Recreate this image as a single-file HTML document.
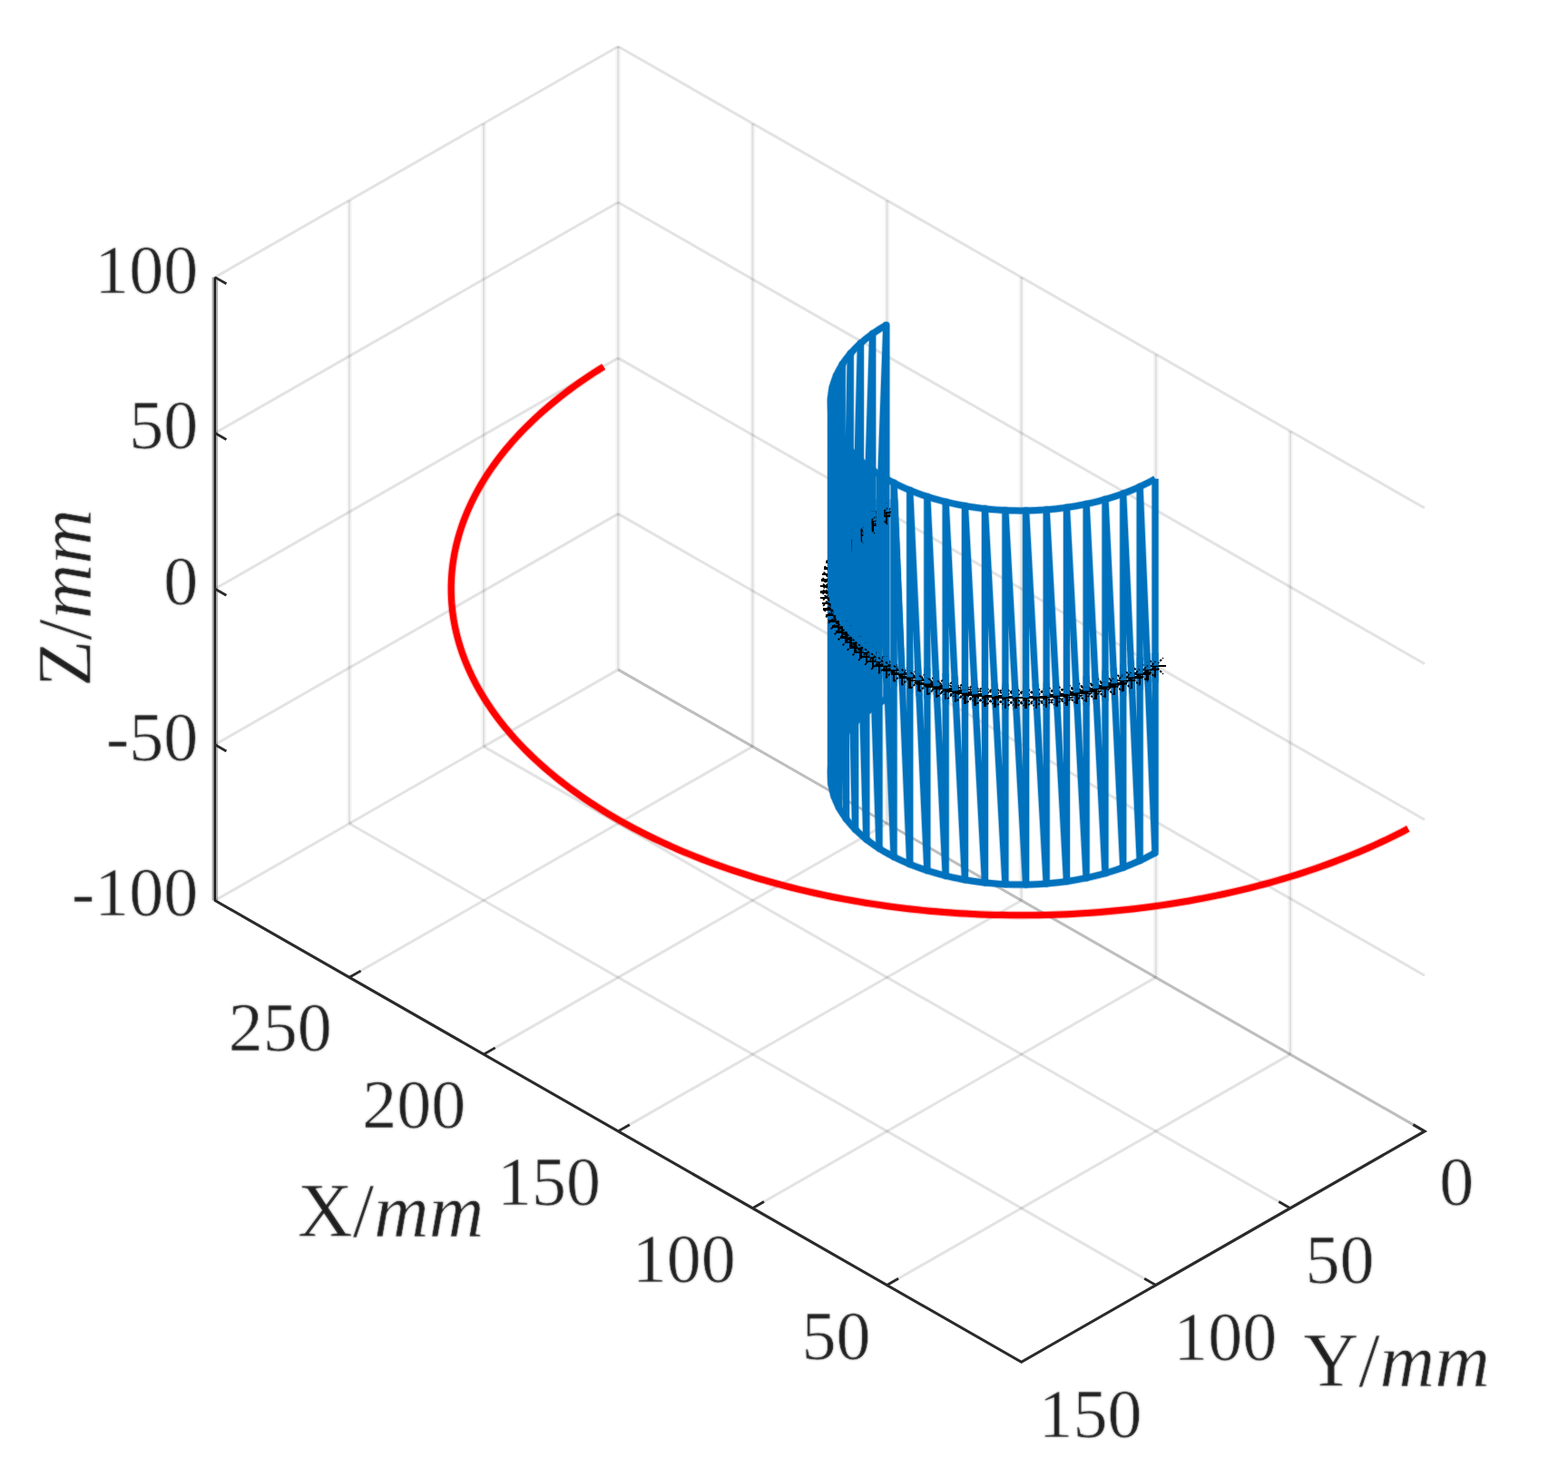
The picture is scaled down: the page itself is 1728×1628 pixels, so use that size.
<!DOCTYPE html>
<html lang="en"><head><meta charset="utf-8"><title>3D plot</title>
<style>
html,body{margin:0;padding:0;background:#fff;}
body{width:1728px;height:1628px;overflow:hidden;}
svg{display:block;}
line,polyline,path{fill:none;}
.gh{stroke:#262626;stroke-opacity:0.045;stroke-width:6;}
.g{stroke:#262626;stroke-opacity:0.1;stroke-width:2.2;}
.gd{stroke:#262626;stroke-opacity:0.13;stroke-width:3;}
.gd2{stroke:#262626;stroke-opacity:0.07;stroke-width:3;}
.axh{stroke:#262626;stroke-opacity:0.38;stroke-width:6.5;stroke-linejoin:miter;}
.ax{stroke:#1c1c1c;stroke-width:2.3;}
.axd{stroke:#2a2a2a;stroke-width:3.1;stroke-linejoin:miter;}
.tk{stroke:#2a2a2a;stroke-width:2.8;}
.redh{stroke:#ff0000;stroke-opacity:0.3;stroke-width:9.2;stroke-linejoin:round;}
.red{stroke:#ff0000;stroke-width:7;stroke-linejoin:round;}
.blh{stroke:#0072bd;stroke-opacity:0.3;stroke-width:8.8;stroke-linejoin:round;}
.bl{stroke:#0072bd;stroke-width:7;stroke-linejoin:round;}
.bl2{stroke:#0072bd;stroke-width:7;stroke-linecap:butt;}
.mk{stroke:#000;stroke-width:2.3;shape-rendering:crispEdges;}
.mkd{stroke:#000;stroke-width:1.9;stroke-dasharray:2.6 1.4;}
text{font-family:"Liberation Serif","Times New Roman",serif;fill:#1e1e1e;stroke:#fff;stroke-width:0.6px;}
</style></head>
<body>
<svg width="1728" height="1628" viewBox="0 0 1728 1628">
<defs><filter id="soft" x="0" y="0" width="1728" height="1628" filterUnits="userSpaceOnUse" color-interpolation-filters="sRGB"><feGaussianBlur stdDeviation="1" result="b"/><feComposite in="SourceGraphic" in2="b" operator="arithmetic" k1="0" k2="0.55" k3="0.45" k4="0"/></filter></defs>
<rect width="1728" height="1628" fill="#ffffff"/>
<g id="grid"><path class="gh" d="M681.25 738.1L681.25 51.2M533.12 822.9L533.12 136M385 907.7L385 220.8M1421.88 1162.1L1421.88 475.2M1273.75 1077.3L1273.75 390.4M1125.62 992.5L1125.62 305.6M977.5 907.7L977.5 220.8M829.38 822.9L829.38 136"/><line class="g" x1="681.25" y1="738.1" x2="681.25" y2="51.2"/><line class="g" x1="533.12" y1="822.9" x2="533.12" y2="136"/><line class="g" x1="385" y1="907.7" x2="385" y2="220.8"/><line class="g" x1="1421.88" y1="1162.1" x2="1421.88" y2="475.2"/><line class="g" x1="1273.75" y1="1077.3" x2="1273.75" y2="390.4"/><line class="g" x1="1125.62" y1="992.5" x2="1125.62" y2="305.6"/><line class="g" x1="977.5" y1="907.7" x2="977.5" y2="220.8"/><line class="g" x1="829.38" y1="822.9" x2="829.38" y2="136"/><line class="gd" x1="236.88" y1="992.5" x2="681.25" y2="738.1"/><line class="gd" x1="236.88" y1="820.78" x2="681.25" y2="566.38"/><line class="gd" x1="236.88" y1="649.05" x2="681.25" y2="394.65"/><line class="gd" x1="236.88" y1="477.33" x2="681.25" y2="222.93"/><line class="gd" x1="236.88" y1="305.6" x2="681.25" y2="51.2"/><line class="gd" x1="681.25" y1="738.1" x2="1570" y2="1246.9"/><line class="gd" x1="681.25" y1="566.38" x2="1570" y2="1075.18"/><line class="gd" x1="681.25" y1="394.65" x2="1570" y2="903.45"/><line class="gd" x1="681.25" y1="222.93" x2="1570" y2="731.73"/><line class="gd" x1="681.25" y1="51.2" x2="1570" y2="560"/><line class="gd" x1="1421.88" y1="1162.1" x2="977.5" y2="1416.5"/><line class="gd" x1="1273.75" y1="1077.3" x2="829.38" y2="1331.7"/><line class="gd" x1="1125.62" y1="992.5" x2="681.25" y2="1246.9"/><line class="gd" x1="977.5" y1="907.7" x2="533.12" y2="1162.1"/><line class="gd" x1="829.38" y1="822.9" x2="385" y2="1077.3"/><line class="gd" x1="1570" y1="1246.9" x2="681.25" y2="738.1"/><line class="gd" x1="1421.88" y1="1331.7" x2="533.12" y2="822.9"/><line class="gd" x1="1273.75" y1="1416.5" x2="385" y2="907.7"/><line class="gd2" x1="681.25" y1="738.1" x2="1570" y2="1246.9"/></g>
<g id="axes"><line class="axh" x1="236.88" y1="305.6" x2="236.88" y2="992.5"/><line class="ax" x1="236.88" y1="305.6" x2="236.88" y2="993.7"/><polyline class="axd" points="236.88,992.5 1125.62,1501.3 1570,1246.9 1557.42,1239.7"/><path class="tk" d="M236.88 820.78L249.46 827.98M236.88 649.05L249.46 656.25M236.88 477.33L249.46 484.53M236.88 305.6L249.46 312.8M977.5 1416.5L990.08 1409.3M829.38 1331.7L841.96 1324.5M681.25 1246.9L693.83 1239.7M533.12 1162.1L545.71 1154.9M385 1077.3L397.58 1070.1M1421.88 1331.7L1409.29 1324.5M1273.75 1416.5L1261.17 1409.3"/></g>
<g id="red"><polyline class="redh" points="1551.81,913.45 1545.88,916.55 1539.88,919.6 1533.81,922.61 1527.67,925.57 1521.47,928.48 1515.21,931.35 1508.88,934.18 1502.49,936.96 1496.03,939.69 1489.52,942.37 1482.95,945.01 1476.32,947.6 1469.63,950.14 1462.89,952.63 1456.09,955.07 1449.23,957.46 1442.33,959.8 1435.37,962.09 1428.36,964.33 1421.31,966.52 1414.2,968.65 1407.05,970.74 1399.85,972.77 1392.61,974.75 1385.32,976.67 1377.99,978.54 1370.62,980.36 1363.21,982.12 1355.76,983.83 1348.28,985.49 1340.75,987.09 1333.2,988.63 1325.6,990.12 1317.98,991.56 1310.32,992.94 1302.64,994.26 1294.92,995.52 1287.18,996.73 1279.41,997.89 1271.62,998.98 1263.8,1000.02 1255.96,1001 1248.1,1001.93 1240.22,1002.79 1232.32,1003.6 1224.4,1004.35 1216.47,1005.05 1208.52,1005.68 1200.56,1006.26 1192.59,1006.78 1184.6,1007.24 1176.61,1007.64 1168.61,1007.98 1160.6,1008.27 1152.58,1008.49 1144.56,1008.66 1136.54,1008.77 1128.51,1008.82 1120.49,1008.81 1112.46,1008.75 1104.44,1008.62 1096.42,1008.44 1088.41,1008.19 1080.4,1007.89 1072.4,1007.53 1064.41,1007.11 1056.43,1006.64 1048.46,1006.1 1040.5,1005.51 1032.55,1004.86 1024.63,1004.15 1016.71,1003.38 1008.82,1002.56 1000.94,1001.67 993.09,1000.73 985.25,999.74 977.44,998.68 969.66,997.57 961.9,996.4 954.16,995.18 946.45,993.89 938.78,992.56 931.13,991.16 923.52,989.71 915.93,988.21 908.39,986.65 900.87,985.03 893.4,983.36 885.96,981.64 878.56,979.86 871.2,978.02 863.88,976.14 856.61,974.2 849.38,972.2 842.19,970.16 835.05,968.06 827.96,965.91 820.92,963.71 813.92,961.45 806.98,959.15 800.09,956.79 793.25,954.39 786.47,951.94 779.74,949.43 773.07,946.88 766.45,944.28 759.9,941.63 753.4,938.93 746.97,936.18 740.59,933.39 734.28,930.55 728.04,927.67 721.85,924.74 715.74,921.77 709.69,918.75 703.7,915.69 697.79,912.58 691.95,909.43 686.18,906.24 680.48,903.01 674.85,899.73 669.29,896.41 663.81,893.06 658.41,889.66 653.08,886.23 647.83,882.75 642.65,879.24 637.56,875.69 632.54,872.11 627.61,868.48 622.75,864.82 617.98,861.13 613.29,857.4 608.69,853.64 604.16,849.84 599.73,846.02 595.38,842.15 591.11,838.26 586.94,834.34 582.85,830.39 578.85,826.4 574.94,822.39 571.11,818.35 567.38,814.28 563.74,810.19 560.19,806.07 556.74,801.92 553.37,797.75 550.1,793.56 546.93,789.34 543.85,785.09 540.86,780.83 537.97,776.54 535.17,772.24 532.47,767.91 529.87,763.57 527.36,759.2 524.95,754.82 522.64,750.42 520.43,746 518.32,741.57 516.31,737.12 514.39,732.66 512.58,728.19 510.86,723.7 509.24,719.2 507.73,714.69 506.32,710.16 505,705.63 503.79,701.09 502.68,696.54 501.67,691.98 500.77,687.42 499.96,682.85 499.26,678.27 498.66,673.69 498.16,669.1 497.76,664.51 497.47,659.92 497.28,655.33 497.19,650.73 497.2,646.14 497.32,641.55 497.54,636.95 497.86,632.36 498.28,627.78 498.81,623.19 499.44,618.61 500.17,614.04 501,609.47 501.93,604.9 502.97,600.35 504.11,595.8 505.34,591.26 506.68,586.73 508.12,582.21 509.67,577.7 511.31,573.2 513.05,568.72 514.89,564.25 516.83,559.79 518.87,555.35 521.01,550.92 523.25,546.51 525.59,542.11 528.02,537.73 530.55,533.37 533.18,529.03 535.91,524.71 538.73,520.41 541.65,516.13 544.66,511.87 547.77,507.64 550.97,503.42 554.26,499.23 557.65,495.07 561.13,490.93 564.7,486.82 568.37,482.73 572.12,478.67 575.97,474.64 579.9,470.63 583.93,466.66 588.04,462.71 592.24,458.8 596.53,454.91 600.9,451.06 605.36,447.24 609.9,443.45 614.53,439.7 619.24,435.98 624.04,432.3 628.91,428.65 633.87,425.04 638.91,421.46 644.02,417.92 649.22,414.42 654.49,410.95 659.84,407.53 665.26,404.14"/><polyline class="red" points="1551.81,913.45 1545.88,916.55 1539.88,919.6 1533.81,922.61 1527.67,925.57 1521.47,928.48 1515.21,931.35 1508.88,934.18 1502.49,936.96 1496.03,939.69 1489.52,942.37 1482.95,945.01 1476.32,947.6 1469.63,950.14 1462.89,952.63 1456.09,955.07 1449.23,957.46 1442.33,959.8 1435.37,962.09 1428.36,964.33 1421.31,966.52 1414.2,968.65 1407.05,970.74 1399.85,972.77 1392.61,974.75 1385.32,976.67 1377.99,978.54 1370.62,980.36 1363.21,982.12 1355.76,983.83 1348.28,985.49 1340.75,987.09 1333.2,988.63 1325.6,990.12 1317.98,991.56 1310.32,992.94 1302.64,994.26 1294.92,995.52 1287.18,996.73 1279.41,997.89 1271.62,998.98 1263.8,1000.02 1255.96,1001 1248.1,1001.93 1240.22,1002.79 1232.32,1003.6 1224.4,1004.35 1216.47,1005.05 1208.52,1005.68 1200.56,1006.26 1192.59,1006.78 1184.6,1007.24 1176.61,1007.64 1168.61,1007.98 1160.6,1008.27 1152.58,1008.49 1144.56,1008.66 1136.54,1008.77 1128.51,1008.82 1120.49,1008.81 1112.46,1008.75 1104.44,1008.62 1096.42,1008.44 1088.41,1008.19 1080.4,1007.89 1072.4,1007.53 1064.41,1007.11 1056.43,1006.64 1048.46,1006.1 1040.5,1005.51 1032.55,1004.86 1024.63,1004.15 1016.71,1003.38 1008.82,1002.56 1000.94,1001.67 993.09,1000.73 985.25,999.74 977.44,998.68 969.66,997.57 961.9,996.4 954.16,995.18 946.45,993.89 938.78,992.56 931.13,991.16 923.52,989.71 915.93,988.21 908.39,986.65 900.87,985.03 893.4,983.36 885.96,981.64 878.56,979.86 871.2,978.02 863.88,976.14 856.61,974.2 849.38,972.2 842.19,970.16 835.05,968.06 827.96,965.91 820.92,963.71 813.92,961.45 806.98,959.15 800.09,956.79 793.25,954.39 786.47,951.94 779.74,949.43 773.07,946.88 766.45,944.28 759.9,941.63 753.4,938.93 746.97,936.18 740.59,933.39 734.28,930.55 728.04,927.67 721.85,924.74 715.74,921.77 709.69,918.75 703.7,915.69 697.79,912.58 691.95,909.43 686.18,906.24 680.48,903.01 674.85,899.73 669.29,896.41 663.81,893.06 658.41,889.66 653.08,886.23 647.83,882.75 642.65,879.24 637.56,875.69 632.54,872.11 627.61,868.48 622.75,864.82 617.98,861.13 613.29,857.4 608.69,853.64 604.16,849.84 599.73,846.02 595.38,842.15 591.11,838.26 586.94,834.34 582.85,830.39 578.85,826.4 574.94,822.39 571.11,818.35 567.38,814.28 563.74,810.19 560.19,806.07 556.74,801.92 553.37,797.75 550.1,793.56 546.93,789.34 543.85,785.09 540.86,780.83 537.97,776.54 535.17,772.24 532.47,767.91 529.87,763.57 527.36,759.2 524.95,754.82 522.64,750.42 520.43,746 518.32,741.57 516.31,737.12 514.39,732.66 512.58,728.19 510.86,723.7 509.24,719.2 507.73,714.69 506.32,710.16 505,705.63 503.79,701.09 502.68,696.54 501.67,691.98 500.77,687.42 499.96,682.85 499.26,678.27 498.66,673.69 498.16,669.1 497.76,664.51 497.47,659.92 497.28,655.33 497.19,650.73 497.2,646.14 497.32,641.55 497.54,636.95 497.86,632.36 498.28,627.78 498.81,623.19 499.44,618.61 500.17,614.04 501,609.47 501.93,604.9 502.97,600.35 504.11,595.8 505.34,591.26 506.68,586.73 508.12,582.21 509.67,577.7 511.31,573.2 513.05,568.72 514.89,564.25 516.83,559.79 518.87,555.35 521.01,550.92 523.25,546.51 525.59,542.11 528.02,537.73 530.55,533.37 533.18,529.03 535.91,524.71 538.73,520.41 541.65,516.13 544.66,511.87 547.77,507.64 550.97,503.42 554.26,499.23 557.65,495.07 561.13,490.93 564.7,486.82 568.37,482.73 572.12,478.67 575.97,474.64 579.9,470.63 583.93,466.66 588.04,462.71 592.24,458.8 596.53,454.91 600.9,451.06 605.36,447.24 609.9,443.45 614.53,439.7 619.24,435.98 624.04,432.3 628.91,428.65 633.87,425.04 638.91,421.46 644.02,417.92 649.22,414.42 654.49,410.95 659.84,407.53 665.26,404.14"/></g>
<g id="cyl"><polyline class="blh" points="1273.05,527.78 1269.12,529.97 1265.09,532.1 1260.97,534.17 1256.76,536.18 1252.45,538.12 1248.05,540 1243.58,541.81 1239.02,543.56 1234.38,545.23 1229.67,546.84 1224.88,548.37 1220.03,549.83 1215.11,551.22 1210.13,552.54 1205.09,553.78 1200,554.94 1194.85,556.03 1189.66,557.04 1184.42,557.97 1179.14,558.82 1173.83,559.59 1168.48,560.28 1163.1,560.9 1157.69,561.43 1152.27,561.88 1146.82,562.25 1141.36,562.54 1135.89,562.74 1130.41,562.86 1124.92,562.91 1119.44,562.86 1113.96,562.74 1108.49,562.54 1103.03,562.25 1097.58,561.88 1092.16,561.43 1086.75,560.9 1081.37,560.28 1076.02,559.59 1070.71,558.82 1065.43,557.97 1060.19,557.04 1055,556.03 1049.85,554.94 1044.76,553.78 1039.72,552.54 1034.74,551.22 1029.82,549.83 1024.97,548.37 1020.18,546.84 1015.47,545.23 1010.83,543.56 1006.27,541.81 1001.8,540 997.4,538.12 993.09,536.18 988.88,534.17 984.76,532.1 980.73,529.97 976.8,527.78 972.97,525.53 969.25,523.23 965.63,520.87 962.13,518.45 958.73,515.99 955.45,513.47 952.29,510.91 949.24,508.3 946.31,505.64 943.51,502.94 940.83,500.2 938.28,497.42 935.85,494.61 933.56,491.76 931.39,488.87 929.36,485.96 927.46,483.01 925.7,480.04 924.07,477.04 922.58,474.02 921.23,470.98 920.02,467.91 918.95,464.83 918.02,461.74 917.24,458.63 916.59,455.52 916.09,452.39 915.73,449.26 915.52,446.12 915.44,442.98 915.52,439.84 915.73,436.7 916.09,433.57 916.59,430.44 917.24,427.33 918.02,424.22 918.95,421.13 920.02,418.05 921.23,414.98 922.58,411.94 924.07,408.92 925.7,405.92 927.46,402.95 929.36,400 931.39,397.09 933.56,394.2 935.85,391.35 938.28,388.54 940.83,385.76 943.51,383.02 946.31,380.32 949.24,377.66 952.29,375.05 955.45,372.49 958.73,369.97 962.13,367.51 965.63,365.09 969.25,362.73 972.97,360.43 976.8,358.18"/><polyline class="blh" points="1273.05,939.92 1269.12,942.11 1265.09,944.24 1260.97,946.31 1256.76,948.32 1252.45,950.26 1248.05,952.14 1243.58,953.95 1239.02,955.7 1234.38,957.37 1229.67,958.98 1224.88,960.51 1220.03,961.97 1215.11,963.36 1210.13,964.68 1205.09,965.92 1200,967.08 1194.85,968.17 1189.66,969.18 1184.42,970.11 1179.14,970.96 1173.83,971.73 1168.48,972.42 1163.1,973.04 1157.69,973.57 1152.27,974.02 1146.82,974.39 1141.36,974.68 1135.89,974.88 1130.41,975 1124.92,975.05 1119.44,975 1113.96,974.88 1108.49,974.68 1103.03,974.39 1097.58,974.02 1092.16,973.57 1086.75,973.04 1081.37,972.42 1076.02,971.73 1070.71,970.96 1065.43,970.11 1060.19,969.18 1055,968.17 1049.85,967.08 1044.76,965.92 1039.72,964.68 1034.74,963.36 1029.82,961.97 1024.97,960.51 1020.18,958.98 1015.47,957.37 1010.83,955.7 1006.27,953.95 1001.8,952.14 997.4,950.26 993.09,948.32 988.88,946.31 984.76,944.24 980.73,942.11 976.8,939.92 972.97,937.67 969.25,935.37 965.63,933.01 962.13,930.59 958.73,928.13 955.45,925.61 952.29,923.05 949.24,920.44 946.31,917.78 943.51,915.08 940.83,912.34 938.28,909.56 935.85,906.75 933.56,903.9 931.39,901.01 929.36,898.1 927.46,895.15 925.7,892.18 924.07,889.18 922.58,886.16 921.23,883.12 920.02,880.05 918.95,876.97 918.02,873.88 917.24,870.77 916.59,867.66 916.09,864.53 915.73,861.4 915.52,858.26 915.44,855.12 915.52,851.98 915.73,848.84 916.09,845.71 916.59,842.58 917.24,839.47 918.02,836.36 918.95,833.27 920.02,830.19 921.23,827.12 922.58,824.08 924.07,821.06 925.7,818.06 927.46,815.09 929.36,812.14 931.39,809.23 933.56,806.34 935.85,803.49 938.28,800.68 940.83,797.9 943.51,795.16 946.31,792.46 949.24,789.8 952.29,787.19 955.45,784.63 958.73,782.11 962.13,779.65 965.63,777.23 969.25,774.87 972.97,772.57 976.8,770.32"/><polyline class="blh" points="976.8,770.32 976.8,358.18 961.65,779.99 961.65,367.85 948.42,790.53 948.42,378.39 937.26,801.84 937.26,389.7 928.29,813.76 928.29,401.62 921.64,826.18 921.64,414.04 917.36,838.93 917.36,426.79 915.52,851.87 915.52,439.73 916.14,864.85 916.14,452.71 919.2,877.72 919.2,465.58 924.67,890.32 924.67,478.18 932.49,902.51 932.49,490.37 942.57,914.14 942.57,502 954.79,925.08 954.79,512.94 969,935.2 969,523.06 985.04,944.39 985.04,532.25 1002.72,952.52 1002.72,540.38 1021.83,959.52 1021.83,547.38 1042.15,965.28 1042.15,553.14 1063.44,969.76 1063.44,557.62 1085.45,972.9 1085.45,560.76 1107.92,974.65 1107.92,562.51 1130.6,975 1130.6,562.86 1153.2,973.95 1153.2,561.81 1175.48,971.5 1175.48,559.36 1197.16,967.69 1197.16,555.55 1218,962.56 1218,550.42 1237.74,956.17 1237.74,544.03 1256.17,948.59 1256.17,536.45 1273.05,939.92 1273.05,527.78"/><polyline class="bl" points="1273.05,527.78 1269.12,529.97 1265.09,532.1 1260.97,534.17 1256.76,536.18 1252.45,538.12 1248.05,540 1243.58,541.81 1239.02,543.56 1234.38,545.23 1229.67,546.84 1224.88,548.37 1220.03,549.83 1215.11,551.22 1210.13,552.54 1205.09,553.78 1200,554.94 1194.85,556.03 1189.66,557.04 1184.42,557.97 1179.14,558.82 1173.83,559.59 1168.48,560.28 1163.1,560.9 1157.69,561.43 1152.27,561.88 1146.82,562.25 1141.36,562.54 1135.89,562.74 1130.41,562.86 1124.92,562.91 1119.44,562.86 1113.96,562.74 1108.49,562.54 1103.03,562.25 1097.58,561.88 1092.16,561.43 1086.75,560.9 1081.37,560.28 1076.02,559.59 1070.71,558.82 1065.43,557.97 1060.19,557.04 1055,556.03 1049.85,554.94 1044.76,553.78 1039.72,552.54 1034.74,551.22 1029.82,549.83 1024.97,548.37 1020.18,546.84 1015.47,545.23 1010.83,543.56 1006.27,541.81 1001.8,540 997.4,538.12 993.09,536.18 988.88,534.17 984.76,532.1 980.73,529.97 976.8,527.78 972.97,525.53 969.25,523.23 965.63,520.87 962.13,518.45 958.73,515.99 955.45,513.47 952.29,510.91 949.24,508.3 946.31,505.64 943.51,502.94 940.83,500.2 938.28,497.42 935.85,494.61 933.56,491.76 931.39,488.87 929.36,485.96 927.46,483.01 925.7,480.04 924.07,477.04 922.58,474.02 921.23,470.98 920.02,467.91 918.95,464.83 918.02,461.74 917.24,458.63 916.59,455.52 916.09,452.39 915.73,449.26 915.52,446.12 915.44,442.98 915.52,439.84 915.73,436.7 916.09,433.57 916.59,430.44 917.24,427.33 918.02,424.22 918.95,421.13 920.02,418.05 921.23,414.98 922.58,411.94 924.07,408.92 925.7,405.92 927.46,402.95 929.36,400 931.39,397.09 933.56,394.2 935.85,391.35 938.28,388.54 940.83,385.76 943.51,383.02 946.31,380.32 949.24,377.66 952.29,375.05 955.45,372.49 958.73,369.97 962.13,367.51 965.63,365.09 969.25,362.73 972.97,360.43 976.8,358.18"/><polyline class="bl" points="1273.05,939.92 1269.12,942.11 1265.09,944.24 1260.97,946.31 1256.76,948.32 1252.45,950.26 1248.05,952.14 1243.58,953.95 1239.02,955.7 1234.38,957.37 1229.67,958.98 1224.88,960.51 1220.03,961.97 1215.11,963.36 1210.13,964.68 1205.09,965.92 1200,967.08 1194.85,968.17 1189.66,969.18 1184.42,970.11 1179.14,970.96 1173.83,971.73 1168.48,972.42 1163.1,973.04 1157.69,973.57 1152.27,974.02 1146.82,974.39 1141.36,974.68 1135.89,974.88 1130.41,975 1124.92,975.05 1119.44,975 1113.96,974.88 1108.49,974.68 1103.03,974.39 1097.58,974.02 1092.16,973.57 1086.75,973.04 1081.37,972.42 1076.02,971.73 1070.71,970.96 1065.43,970.11 1060.19,969.18 1055,968.17 1049.85,967.08 1044.76,965.92 1039.72,964.68 1034.74,963.36 1029.82,961.97 1024.97,960.51 1020.18,958.98 1015.47,957.37 1010.83,955.7 1006.27,953.95 1001.8,952.14 997.4,950.26 993.09,948.32 988.88,946.31 984.76,944.24 980.73,942.11 976.8,939.92 972.97,937.67 969.25,935.37 965.63,933.01 962.13,930.59 958.73,928.13 955.45,925.61 952.29,923.05 949.24,920.44 946.31,917.78 943.51,915.08 940.83,912.34 938.28,909.56 935.85,906.75 933.56,903.9 931.39,901.01 929.36,898.1 927.46,895.15 925.7,892.18 924.07,889.18 922.58,886.16 921.23,883.12 920.02,880.05 918.95,876.97 918.02,873.88 917.24,870.77 916.59,867.66 916.09,864.53 915.73,861.4 915.52,858.26 915.44,855.12 915.52,851.98 915.73,848.84 916.09,845.71 916.59,842.58 917.24,839.47 918.02,836.36 918.95,833.27 920.02,830.19 921.23,827.12 922.58,824.08 924.07,821.06 925.7,818.06 927.46,815.09 929.36,812.14 931.39,809.23 933.56,806.34 935.85,803.49 938.28,800.68 940.83,797.9 943.51,795.16 946.31,792.46 949.24,789.8 952.29,787.19 955.45,784.63 958.73,782.11 962.13,779.65 965.63,777.23 969.25,774.87 972.97,772.57 976.8,770.32"/><polyline class="bl" points="976.8,770.32 976.8,358.18 961.65,779.99 961.65,367.85 948.42,790.53 948.42,378.39 937.26,801.84 937.26,389.7 928.29,813.76 928.29,401.62 921.64,826.18 921.64,414.04 917.36,838.93 917.36,426.79 915.52,851.87 915.52,439.73 916.14,864.85 916.14,452.71 919.2,877.72 919.2,465.58 924.67,890.32 924.67,478.18 932.49,902.51 932.49,490.37 942.57,914.14 942.57,502 954.79,925.08 954.79,512.94 969,935.2 969,523.06 985.04,944.39 985.04,532.25 1002.72,952.52 1002.72,540.38 1021.83,959.52 1021.83,547.38 1042.15,965.28 1042.15,553.14 1063.44,969.76 1063.44,557.62 1085.45,972.9 1085.45,560.76 1107.92,974.65 1107.92,562.51 1130.6,975 1130.6,562.86 1153.2,973.95 1153.2,561.81 1175.48,971.5 1175.48,559.36 1197.16,967.69 1197.16,555.55 1218,962.56 1218,550.42 1237.74,956.17 1237.74,544.03 1256.17,948.59 1256.17,536.45 1273.05,939.92 1273.05,527.78"/></g>
<g id="markers"><path class="bl2" d="M976.8 752.32L976.8 564.25M962.81 747.73L968.85 579.71M961.65 747.73L961.65 593.68M950.06 738.07L954.34 601.56M948.42 738.07L948.42 606.03M939.07 733.01L942.2 614.43M937.26 727.54L937.26 618.88"/><path class="mk" d="M965 564.5H989M977 552.5V576.5"/><path class="mkd" d="M968.1 555.6L985.9 573.4M968.1 573.4L985.9 555.6"/><path class="bl2" d="M930.23 722.07L931.96 640.35M968.85 579.71L969.23 569.08M961.65 593.68L961.65 583.8M976.8 564.25L976.8 554.37"/><path class="mk" d="M957 569H981M969 557V581"/><path class="mkd" d="M960.1 560.1L977.9 577.9M960.1 577.9L977.9 560.1"/><path class="bl2" d="M976.8 554.37L976.8 550.25M928.29 722.07L928.29 643.65M961.65 583.8L961.65 573.92M954.34 601.56L954.67 590.86M969.23 569.08L969.61 558.46"/><path class="mk" d="M949.5 574H973.5M961.5 562V586"/><path class="mkd" d="M952.6 565.1L970.4 582.9M952.6 582.9L970.4 565.1"/><path class="bl2" d="M969.61 558.46L969.9 550.25M948.42 606.03L948.42 595.25M954.67 590.86L955.04 579.19M961.65 573.92L961.65 563.13"/><path class="mk" d="M943 579H967M955 567V591"/><path class="mkd" d="M946.1 570.1L963.9 587.9M946.1 587.9L963.9 570.1"/><path class="bl2" d="M948.42 595.25L948.42 584.46M961.65 563.13L961.65 552.35M942.2 614.43L942.51 602.69M955.04 579.19L955.4 567.52M923.36 716.26L924.33 654.61"/><path class="mk" d="M936.5 584.5H960.5M948.5 572.5V596.5"/><path class="mkd" d="M939.6 575.6L957.4 593.4M939.6 593.4L957.4 575.6"/><path class="bl2" d="M961.65 552.35L961.65 550.25M921.64 710.44L921.64 669.89M955.4 567.52L955.79 555.08M931.96 640.35L932.23 627.71M942.51 602.69L942.84 590.11M937.26 618.88L937.26 607.32M948.42 584.46L948.42 572.9"/><path class="mk" d="M931 590H955M943 578V602"/><path class="mkd" d="M934.1 581.1L951.9 598.9M934.1 598.9L951.9 581.1"/><path class="bl2" d="M942.84 590.11L943.17 577.53M928.29 643.65L928.29 632.09M937.26 607.32L937.26 595.77M948.42 572.9L948.42 561.35M932.23 627.71L932.49 615.07M918.65 710.44L918.94 682.2"/><path class="mk" d="M925.5 596H949.5M937.5 584V608"/><path class="mkd" d="M928.6 587.1L946.4 604.9M928.6 604.9L946.4 587.1"/><path class="bl2" d="M948.42 561.35L948.42 559.92M917.36 710.44L917.36 696.52M943.17 577.53L943.5 565.19M937.26 595.77L937.26 583.57M921.64 669.89L921.64 657.69M928.29 632.09L928.29 619.89M924.33 654.61L924.54 641.22M932.49 615.07L932.78 601.73"/><path class="mk" d="M921 601.5H945M933 589.5V613.5"/><path class="mkd" d="M924.1 592.6L941.9 610.4M924.1 610.4L941.9 592.6"/><path class="bl2" d="M921.64 657.69L921.64 645.49M928.29 619.89L928.29 607.69M937.26 583.57L937.26 571.37M918.94 682.2L919.07 668.77M924.54 641.22L924.75 627.83M932.78 601.73L933.06 588.39M917.36 696.52L917.36 684.32"/><path class="mk" d="M916.5 607.5H940.5M928.5 595.5V619.5"/><path class="mkd" d="M919.6 598.6L937.4 616.4M919.6 616.4L937.4 598.6"/><path class="bl2" d="M937.26 571.37L937.26 570.46M917.36 684.32L917.36 671.63M921.64 645.49L921.64 632.8M928.29 607.69L928.29 595M919.07 668.77L919.21 654.8M924.75 627.83L924.97 613.9M933.06 588.39L933.35 574.51M916.16 704.35L916.19 696.65"/><path class="mk" d="M913 614H937M925 602V626"/><path class="mkd" d="M916.1 605.1L933.9 622.9M916.1 622.9L933.9 605.1"/><path class="bl2" d="M933.35 574.51L933.44 570.46M924.97 613.9L925.18 599.97M917.36 671.63L917.36 658.94M921.64 632.8L921.64 620.11M928.29 595L928.29 582.31M916.19 696.65L916.25 682.66M919.21 654.8L919.36 640.83M915.52 704.35L915.52 698.35"/><path class="mk" d="M909.5 620H933.5M921.5 608V632"/><path class="mkd" d="M912.6 611.1L930.4 628.9M912.6 628.9L930.4 611.1"/><path class="bl2" d="M928.29 582.31L928.29 576.11M921.64 620.11L921.64 607.07M915.52 698.35L915.52 685.31M917.36 658.94L917.36 645.9M919.36 640.83L919.5 626.48M916.25 682.66L916.32 668.29M925.18 599.97L925.41 585.65"/><path class="mk" d="M907.5 626.5H931.5M919.5 614.5V638.5"/><path class="mkd" d="M910.6 617.6L928.4 635.4M910.6 635.4L928.4 617.6"/><path class="bl2" d="M925.41 585.65L925.47 581.77M915.52 685.31L915.52 672.27M916.32 668.29L916.38 653.92M917.36 645.9L917.36 632.86M921.64 607.07L921.64 594.03M919.5 626.48L919.64 612.13M915.9 704.35L915.89 696.11"/><path class="mk" d="M905.5 633H929.5M917.5 621V645"/><path class="mkd" d="M908.6 624.1L926.4 641.9M908.6 641.9L926.4 624.1"/><path class="bl2" d="M921.64 594.03L921.64 581.77M917.36 632.86L917.36 619.63M915.89 696.11L915.87 681.52M916.38 653.92L916.44 639.33M915.52 672.27L915.52 659.04M919.64 612.13L919.79 597.57M916.14 704.35L916.14 698.56"/><path class="mk" d="M904.5 639.5H928.5M916.5 627.5V651.5"/><path class="mkd" d="M907.6 630.6L925.4 648.4M907.6 648.4L925.4 630.6"/><path class="bl2" d="M919.79 597.57L919.89 587.73M916.14 698.56L916.14 685.33M917.36 619.63L917.36 606.39M915.87 681.52L915.85 666.93M916.44 639.33L916.51 624.75M915.52 659.04L915.52 645.8M917.99 710.44L917.98 708.95"/><path class="mk" d="M903.5 646H927.5M915.5 634V658"/><path class="mkd" d="M906.6 637.1L924.4 654.9M906.6 654.9L924.4 637.1"/><path class="bl2" d="M916.14 685.33L916.14 672.06M915.52 645.8L915.52 632.53M917.36 606.39L917.36 593.12M917.98 708.95L917.88 694.33M915.85 666.93L915.83 652.29M916.51 624.75L916.57 610.12"/><path class="mk" d="M904 652.5H928M916 640.5V664.5"/><path class="mkd" d="M907.1 643.6L924.9 661.4M907.1 661.4L924.9 643.6"/><path class="bl2" d="M917.36 593.12L917.36 587.73M915.83 652.29L915.81 637.66M915.52 632.53L915.52 619.26M917.88 694.33L917.77 679.71M916.57 610.12L916.63 595.49M916.14 672.06L916.14 658.78M919.2 710.44L919.2 697.96"/><path class="mk" d="M904 659H928M916 647V671"/><path class="mkd" d="M907.1 650.1L924.9 667.9M907.1 667.9L924.9 650.1"/><path class="bl2" d="M916.63 595.49L916.64 593.69M916.14 658.78L916.14 645.63M919.2 697.96L919.2 684.81M915.52 619.26L915.52 606.1M917.77 679.71L917.67 665.22M915.81 637.66L915.79 623.16M922.43 716.26L922.3 706.58"/><path class="mk" d="M905.5 665H929.5M917.5 653V677"/><path class="mkd" d="M908.6 656.1L926.4 673.9M908.6 673.9L926.4 656.1"/><path class="bl2" d="M915.52 606.1L915.52 593.69M916.14 645.63L916.14 632.47M922.3 706.58L922.12 692.11M915.79 623.16L915.77 608.65M919.2 684.81L919.2 671.65M917.67 665.22L917.56 650.72M924.67 716.26L924.67 710.02"/><path class="mk" d="M907 671.5H931M919 659.5V683.5"/><path class="mkd" d="M910.1 662.6L927.9 680.4M910.1 680.4L927.9 662.6"/><path class="bl2" d="M919.2 671.65L919.2 658.76M924.67 710.02L924.67 697.14M917.56 650.72L917.46 636.53M916.14 632.47L916.14 619.59M922.12 692.11L921.93 677.95M915.77 608.65L915.74 594.44M929.17 722.07L929.09 718.12"/><path class="mk" d="M910 678H934M922 666V690"/><path class="mkd" d="M913.1 669.1L930.9 686.9M913.1 686.9L930.9 669.1"/><path class="bl2" d="M915.74 594.44L915.74 593.69M917.46 636.53L917.36 622.34M916.14 619.59L916.14 606.7M919.2 658.76L919.2 645.88M924.67 697.14L924.67 684.25M929.09 718.12L928.83 704M921.93 677.95L921.75 663.79M932.49 722.07L932.49 721.37"/><path class="mk" d="M912.5 684.5H936.5M924.5 672.5V696.5"/><path class="mkd" d="M915.6 675.6L933.4 693.4M915.6 693.4L933.4 675.6"/><path class="bl2" d="M919.2 645.88L919.2 633.42M917.36 622.34L917.26 608.61M932.49 721.37L932.49 708.9M924.67 684.25L924.67 671.79M916.14 606.7L916.14 594.24M928.83 704L928.58 690.35M921.75 663.79L921.58 650.08"/><path class="mk" d="M916.5 690.5H940.5M928.5 678.5V702.5"/><path class="mkd" d="M919.6 681.6L937.4 699.4M919.6 699.4L937.4 681.6"/><path class="bl2" d="M916.14 594.24L916.14 593.69M932.49 708.9L932.49 696.44M919.2 633.42L919.2 620.95M928.58 690.35L928.33 676.69M917.26 608.61L917.16 594.88M924.67 671.79L924.67 659.32M921.58 650.08L921.4 636.38M938.13 727.54L937.84 715.24M942.57 733.01L942.57 731.86"/><path class="mk" d="M920.5 696.5H944.5M932.5 684.5V708.5"/><path class="mkd" d="M923.6 687.6L941.4 705.4M923.6 705.4L941.4 687.6"/><path class="bl2" d="M917.16 594.88L917.11 587.73M942.57 731.86L942.57 719.97M924.67 659.32L924.67 647.43M937.84 715.24L937.53 702.26M932.49 696.44L932.49 684.54M928.33 676.69L928.09 663.65M921.4 636.38L921.23 623.31"/><path class="mk" d="M925.5 702.5H949.5M937.5 690.5V714.5"/><path class="mkd" d="M928.6 693.6L946.4 711.4M928.6 711.4L946.4 693.6"/><path class="bl2" d="M919.2 620.95L919.2 587.73M942.57 719.97L942.57 708.07M937.53 702.26L937.22 689.28M928.09 663.65L927.85 650.62M932.49 684.54L932.49 672.65M949.39 738.07L949.03 725.69M954.79 743.13L954.79 741.39"/><path class="mk" d="M930.5 708H954.5M942.5 696V720"/><path class="mkd" d="M933.6 699.1L951.4 716.9M933.6 716.9L951.4 699.1"/><path class="bl2" d="M921.23 623.31L920.77 587.73M954.79 741.39L954.79 730.2M949.03 725.69L948.68 713.54M942.57 708.07L942.57 696.89M937.22 689.28L936.93 677.07M962.69 747.73L962.67 747.31"/><path class="mk" d="M936.5 713.5H960.5M948.5 701.5V725.5"/><path class="mkd" d="M939.6 704.6L957.4 722.4M939.6 722.4L957.4 704.6"/><path class="bl2" d="M954.79 730.2L954.79 719.01M962.67 747.31L962.27 735.24M948.68 713.54L948.33 701.4M942.57 696.89L942.57 685.7M924.67 647.43L924.67 581.77"/><path class="mk" d="M943 719H967M955 707V731"/><path class="mkd" d="M946.1 710.1L963.9 727.9M946.1 727.9L963.9 710.1"/><path class="bl2" d="M954.79 719.01L954.79 708.67M962.27 735.24L961.89 724.07M948.33 701.4L948 690.17M969 747.73L969 739.48M927.85 650.62L926.58 581.77"/><path class="mk" d="M950 724H974M962 712V736"/><path class="mkd" d="M953.1 715.1L970.9 732.9M953.1 732.9L970.9 715.1"/><path class="bl2" d="M969 739.48L969 729.13M961.89 724.07L961.52 712.91M954.79 708.67L954.79 698.32M977.72 752.32L977.4 743.78"/><path class="mk" d="M957 729H981M969 717V741"/><path class="mkd" d="M960.1 720.1L977.9 737.9M960.1 737.9L977.9 720.1"/><path class="bl2" d="M1273.05 752.19L1273.05 733.85M1265.38 756.52L1264.96 746.51M977.4 743.78L977.02 733.73M969 729.13L969 719.75M961.52 712.91L961.18 702.78M985.04 756.38L985.04 747.71M932.49 672.65L932.49 576.11"/><path class="mk" d="M965 733.5H989M977 721.5V745.5"/><path class="mkd" d="M968.1 724.6L985.9 742.4M968.1 742.4L985.9 724.6"/><path class="mk" d="M1261 734H1285M1273 722V746"/><path class="mkd" d="M1264.1 725.1L1281.9 742.9M1264.1 742.9L1281.9 725.1"/><path class="bl2" d="M1256.17 760.31L1256.17 751.39M1264.96 746.51L1264.61 738.19M1273.05 733.85L1273.05 724.98M985.04 747.71L985.04 738.32M977.02 733.73L976.63 723.67M994.64 760.45L994.25 751.22M936.93 677.07L934.4 570.46"/><path class="mk" d="M1252.5 738H1276.5M1264.5 726V750"/><path class="mkd" d="M1255.6 729.1L1273.4 746.9M1255.6 746.9L1273.4 729.1"/><path class="mk" d="M973 738.5H997M985 726.5V750.5"/><path class="mkd" d="M976.1 729.6L993.9 747.4M976.1 747.4L993.9 729.6"/><path class="bl2" d="M1273.05 724.98L1273.05 719.85M1247.77 764.1L1247.29 753.64M1002.72 763.95L1002.72 754.77M985.04 738.32L985.04 730M994.25 751.22L993.88 742.38M1256.17 751.39L1256.17 742.52M1264.61 738.19L1264.26 729.86"/><path class="mk" d="M982 742.5H1006M994 730.5V754.5"/><path class="mkd" d="M985.1 733.6L1002.9 751.4M985.1 751.4L1002.9 733.6"/><path class="mk" d="M1244 742.5H1268M1256 730.5V754.5"/><path class="mkd" d="M1247.1 733.6L1264.9 751.4M1247.1 751.4L1264.9 733.6"/><path class="bl2" d="M1237.74 767.29L1237.74 757.84M1013.07 767.45L1012.61 757.48M1256.17 742.52L1256.17 734.78M1247.29 753.64L1246.96 746.31M993.88 742.38L993.5 733.54M1002.72 754.77L1002.72 746.45M1264.26 729.86L1263.84 719.85"/><path class="mk" d="M1235 746.5H1259M1247 734.5V758.5"/><path class="mkd" d="M1238.1 737.6L1255.9 755.4M1238.1 755.4L1255.9 737.6"/><path class="mk" d="M990.5 746.5H1014.5M1002.5 734.5V758.5"/><path class="mkd" d="M993.6 737.6L1011.4 755.4M993.6 755.4L1011.4 737.6"/><path class="bl2" d="M1228.71 770.49L1228.18 759.53M1021.83 770.33L1021.83 760.6M1012.61 757.48L1012.27 749.95M1002.72 746.45L1002.72 739.3M1237.74 757.84L1237.74 750.1M1246.96 746.31L1246.62 738.98M942.57 685.7L942.57 565.19M1256.17 734.78L1256.17 724.19"/><path class="mk" d="M1000.5 750H1024.5M1012.5 738V762"/><path class="mkd" d="M1003.6 741.1L1021.4 758.9M1003.6 758.9L1021.4 741.1"/><path class="mk" d="M1225.5 750H1249.5M1237.5 738V762"/><path class="mkd" d="M1228.6 741.1L1246.4 758.9M1228.6 758.9L1246.4 741.1"/><path class="bl2" d="M1218 773.05L1218 763.02M1032.81 773.21L1032.29 762.49M1228.18 759.53L1227.87 753.29M1237.74 750.1L1237.74 743.56M1021.83 760.6L1021.83 753.45M1012.27 749.95L1011.93 742.42M948 690.17L944.4 565.19M1002.72 739.3L1002.72 728.38M1246.62 738.98L1246.15 728.52"/><path class="mk" d="M1216 753.5H1240M1228 741.5V765.5"/><path class="mkd" d="M1219.1 744.6L1236.9 762.4M1219.1 762.4L1236.9 744.6"/><path class="mk" d="M1010 753.5H1034M1022 741.5V765.5"/><path class="mkd" d="M1013.1 744.6L1030.9 762.4M1013.1 762.4L1030.9 744.6"/><path class="bl2" d="M1208.43 775.62L1207.84 764.11M1042.15 775.45L1042.15 765.11M1021.83 753.45L1021.83 747.55M1032.29 762.49L1031.99 756.33M1218 763.02L1218 756.49M1227.87 753.29L1227.57 747.06M1011.93 742.42L1011.47 732.45M1237.74 743.56L1237.74 732.31"/><path class="mk" d="M1020 756.5H1044M1032 744.5V768.5"/><path class="mkd" d="M1023.1 747.6L1040.9 765.4M1023.1 765.4L1040.9 747.6"/><path class="bl2" d="M1197.16 777.52L1197.16 766.87"/><path class="mk" d="M1206 756.5H1230M1218 744.5V768.5"/><path class="mkd" d="M1209.1 747.6L1226.9 765.4M1209.1 765.4L1226.9 747.6"/><path class="bl2" d="M1053.62 777.69L1053.03 766.19M1218 756.49L1218 751.24M1207.84 764.11L1207.58 759.05M1031.99 756.33L1031.69 750.17M1042.15 765.11L1042.15 759.21M1187.17 779.43L1186.52 767.31M1063.44 779.26L1063.44 768.27"/><path class="mk" d="M1195.5 759H1219.5M1207.5 747V771"/><path class="mkd" d="M1198.6 750.1L1216.4 767.9M1198.6 767.9L1216.4 750.1"/><path class="bl2" d="M1021.83 747.55L1021.83 735.95"/><path class="mk" d="M1030 759H1054M1042 747V771"/><path class="mkd" d="M1033.1 750.1L1050.9 767.9M1033.1 767.9L1050.9 750.1"/><path class="bl2" d="M1227.57 747.06L1227.04 736.1M1042.15 759.21L1042.15 754.64M1053.03 766.19L1052.79 761.45M1197.16 766.87L1197.16 761.62M1207.58 759.05L1207.32 754M1175.48 780.65L1175.48 769.33M1075.27 780.83L1074.62 768.54"/><path class="mk" d="M1041 761.5H1065M1053 749.5V773.5"/><path class="mkd" d="M1044.1 752.6L1061.9 770.4M1044.1 770.4L1061.9 752.6"/><path class="mk" d="M1185 761.5H1209M1197 749.5V773.5"/><path class="mkd" d="M1188.1 752.6L1205.9 770.4M1188.1 770.4L1205.9 752.6"/><path class="bl2" d="M1031.69 750.17L1031.17 739.45M1218 751.24L1218 739.29M1165.17 781.88L1164.48 769.11M1085.45 781.7L1085.45 770.03M1197.16 761.62L1197.16 757.72M1186.52 767.31L1186.32 763.52M1063.44 768.27L1063.44 763.69M1052.79 761.45L1052.55 756.72"/><path class="mk" d="M1174.5 763.5H1198.5M1186.5 751.5V775.5"/><path class="mkd" d="M1177.6 754.6L1195.4 772.4M1177.6 772.4L1195.4 754.6"/><path class="bl2" d="M1097.49 782.58L1096.79 769.52"/><path class="mk" d="M1051.5 763.5H1075.5M1063.5 751.5V775.5"/><path class="mkd" d="M1054.6 754.6L1072.4 772.4M1054.6 772.4L1072.4 754.6"/><path class="bl2" d="M1153.2 782.4L1153.2 770.38M954.79 698.32L954.79 555.08M1042.15 754.64L1042.15 742.33M1074.62 768.54L1074.44 765.26M1063.44 763.69L1063.44 760.49M1175.48 769.33L1175.48 765.43M1186.32 763.52L1186.12 759.74M1207.32 754L1206.73 742.49M1142.7 782.93L1141.96 769.47M1107.92 782.76L1107.92 770.37M1120.04 782.93L1119.28 769.12M1130.6 782.93L1130.6 770.01"/><path class="mk" d="M1062.5 765.5H1086.5M1074.5 753.5V777.5"/><path class="mkd" d="M1065.6 756.6L1083.4 774.4M1065.6 774.4L1083.4 756.6"/><path class="mk" d="M1163.5 765.5H1187.5M1175.5 753.5V777.5"/><path class="mkd" d="M1166.6 756.6L1184.4 774.4M1166.6 774.4L1184.4 756.6"/><path class="bl2" d="M1175.48 765.43L1175.48 762.93M1164.48 769.11L1164.34 766.65M1085.45 770.03L1085.45 766.83M1074.44 765.26L1074.27 761.98M1052.55 756.72L1051.96 745.21M1197.16 757.72L1197.16 745.05"/><path class="mk" d="M1152.5 766.5H1176.5M1164.5 754.5V778.5"/><path class="mkd" d="M1155.6 757.6L1173.4 775.4M1155.6 775.4L1173.4 757.6"/><path class="mk" d="M1073.5 767H1097.5M1085.5 755V779"/><path class="mkd" d="M1076.6 758.1L1094.4 775.9M1076.6 775.9L1094.4 758.1"/><path class="bl2" d="M961.18 702.78L956.21 555.08M1096.79 769.52L1096.69 767.7M1085.45 766.83L1085.45 765.03M1164.34 766.65L1164.21 764.2M1153.2 770.38L1153.2 767.88"/><path class="mk" d="M1084.5 767.5H1108.5M1096.5 755.5V779.5"/><path class="mkd" d="M1087.6 758.6L1105.4 776.4M1087.6 776.4L1105.4 758.6"/><path class="mk" d="M1141 768H1165M1153 756V780"/><path class="mkd" d="M1144.1 759.1L1161.9 776.9M1144.1 776.9L1161.9 759.1"/><path class="bl2" d="M1141.96 769.47L1141.9 768.4M1153.2 767.88L1153.2 766.8M1107.92 770.37L1107.92 768.58M1096.69 767.7L1096.59 765.89"/><path class="mk" d="M1130 768.5H1154M1142 756.5V780.5"/><path class="mkd" d="M1133.1 759.6L1150.9 777.4M1133.1 777.4L1150.9 759.6"/><path class="bl2" d="M1063.44 760.49L1063.44 747.45M1186.12 759.74L1185.48 747.62"/><path class="mk" d="M1096 768.5H1120M1108 756.5V780.5"/><path class="mkd" d="M1099.1 759.6L1116.9 777.4M1099.1 777.4L1116.9 759.6"/><path class="bl2" d="M1130.6 770.01L1130.6 769.29M1107.92 768.58L1107.92 768.22M1119.28 769.12L1119.26 768.76M1141.9 768.4L1141.84 767.34"/><path class="mk" d="M1107.5 769H1131.5M1119.5 757V781"/><path class="mkd" d="M1110.6 760.1L1128.4 777.9M1110.6 777.9L1128.4 760.1"/><path class="bl2" d="M1130.6 769.29L1130.6 768.93M1119.26 768.76L1119.24 768.4"/><path class="mk" d="M1118.5 769H1142.5M1130.5 757V781"/><path class="mkd" d="M1121.6 760.1L1139.4 777.9M1121.6 777.9L1139.4 760.1"/><path class="bl2" d="M1074.27 761.98L1073.62 749.69M1175.48 762.93L1175.48 749.52M1164.21 764.2L1163.51 751.43M1085.45 765.03L1085.45 751.26M1096.59 765.89L1095.88 752.83M1153.2 766.8L1153.2 752.65M1141.84 767.34L1141.1 753.88M1119.24 768.4L1118.48 754.58M1107.92 768.22L1107.92 753.7M1130.6 768.93L1130.6 754.4M969 719.75L969 550.25M976.63 723.67L970.03 550.25M985.04 730L985.04 550.25M993.5 733.54L985.79 550.25"/></g>
<g id="labels" filter="url(#soft)"><text x="218.2" y="322.5" text-anchor="end" font-size="76">100</text><text x="218.2" y="494.23" text-anchor="end" font-size="76">50</text><text x="218.2" y="665.95" text-anchor="end" font-size="76">0</text><text x="218.2" y="837.68" text-anchor="end" font-size="76">-50</text><text x="218.2" y="1009.4" text-anchor="end" font-size="76">-100</text><text x="308.75" y="1158" text-anchor="middle" font-size="76">250</text><text x="456.25" y="1243" text-anchor="middle" font-size="76">200</text><text x="605" y="1328" text-anchor="middle" font-size="76">150</text><text x="753.75" y="1413" text-anchor="middle" font-size="76">100</text><text x="921.5" y="1497.5" text-anchor="middle" font-size="76">50</text><text x="1605.25" y="1328" text-anchor="middle" font-size="76">0</text><text x="1476.5" y="1413.5" text-anchor="middle" font-size="76">50</text><text x="1350.25" y="1498.5" text-anchor="middle" font-size="76">100</text><text x="1201.5" y="1583.5" text-anchor="middle" font-size="76">150</text><text x="328" y="1363" font-size="84">X/<tspan font-style="italic">mm</tspan></text><text x="1436.5" y="1528" font-size="84">Y/<tspan font-style="italic">mm</tspan></text><text transform="translate(100 757) rotate(-90)" font-size="84">Z/<tspan font-style="italic">mm</tspan></text></g>
</svg>
</body></html>
